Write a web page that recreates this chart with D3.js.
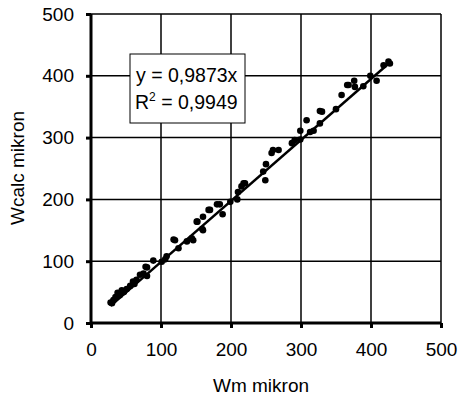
<!DOCTYPE html>
<html>
<head>
<meta charset="utf-8">
<script src="https://cdn.jsdelivr.net/npm/d3@7"></script>
<style>
  body { margin: 0; background: #fff; }
  text { font-family: Arial, "Liberation Sans", sans-serif; fill: #000; }
</style>
</head>
<body>
<div id="chart"></div>
<script>
var wm = [28, 30, 32, 35, 38, 41, 44, 47, 51, 56, 60, 62, 65, 70, 75, 78, 80, 80, 89, 101,
  106, 108, 118, 120, 125, 137, 144, 146, 151, 152, 159, 160, 160, 168, 170, 180, 184, 188,
  199, 209, 210, 215, 218, 220, 246, 249, 250, 258, 260, 268, 287, 291, 299, 299, 308, 313,
  318, 327, 327, 330, 350, 358, 366, 368, 376, 377, 389, 399, 408, 418, 425, 427];
var wcalc = [33, 32, 37, 42, 49, 45, 53, 50, 55, 60, 67, 63, 70, 78, 80, 91, 76, 90, 101, 99,
  103, 108, 135, 134, 121, 132, 137, 134, 164, 164, 152, 150, 172, 183, 183, 192, 192, 176,
  196, 200, 212, 221, 226, 226, 245, 231, 257, 275, 280, 280, 291, 296, 297, 311, 328, 309,
  311, 323, 343, 342, 346, 369, 385, 385, 392, 382, 383, 400, 392, 417, 423, 420];
var slope = 0.9873;
var xTicks = [0, 100, 200, 300, 400, 500];
var yTicks = [0, 100, 200, 300, 400, 500];
var eqLines = ['y = 0,9873x', 'R2 = 0,9949'];

var svgWidth = 459, svgHeight = 401;
var margin = {top: 14, right: 18, bottom: 78, left: 91},
    width = svgWidth - margin.left - margin.right,
    height = svgHeight - margin.top - margin.bottom;

var svg = d3.select('#chart').append('svg')
    .attr('width', svgWidth)
    .attr('height', svgHeight);
var g = svg.append('g')
    .attr('transform', `translate(${margin.left}, ${margin.top})`);

var x = d3.scaleLinear().domain([0, 500]).range([0, width]);
var y = d3.scaleLinear().domain([0, 500]).range([height, 0]);

// grid lines
g.append('g').selectAll('line')
    .data(xTicks.slice(1))
    .enter().append('line')
    .attr('x1', d => x(d)).attr('x2', d => x(d))
    .attr('y1', 0).attr('y2', height)
    .attr('stroke', '#000').attr('stroke-width', 1.5);
g.append('g').selectAll('line')
    .data(yTicks.slice(1))
    .enter().append('line')
    .attr('x1', 0).attr('x2', width)
    .attr('y1', d => y(d)).attr('y2', d => y(d))
    .attr('stroke', '#000').attr('stroke-width', 1.5);

// axes
var xAxis = g.append('g')
    .attr('transform', `translate(0, ${height})`)
    .call(d3.axisBottom(x).tickValues(xTicks).tickSize(5).tickPadding(15));
var yAxis = g.append('g')
    .call(d3.axisLeft(y).tickValues(yTicks).tickSize(5).tickPadding(12));
[xAxis, yAxis].forEach(function(ax) {
  ax.select('.domain').attr('stroke', '#000').attr('stroke-width', 3);
  ax.selectAll('.tick line').attr('stroke', '#000').attr('stroke-width', 3);
  ax.selectAll('.tick text')
    .attr('font-size', '19px')
    .attr('font-family', 'Arial, "Liberation Sans", sans-serif')
    .attr('fill', '#000');
});
xAxis.select('.domain').attr('d', `M0,0H${width}`);
yAxis.select('.domain').attr('d', `M0,${height}V0`);

// trend line
var xr = d3.extent(wm);
g.append('line')
    .attr('x1', x(xr[0])).attr('y1', y(xr[0] * slope))
    .attr('x2', x(xr[1])).attr('y2', y(xr[1] * slope))
    .attr('stroke', '#000').attr('stroke-width', 2.5);

// points
g.selectAll('circle')
    .data(wm)
    .enter().append('circle')
    .attr('cx', (d, i) => x(d))
    .attr('cy', (d, i) => y(wcalc[i]))
    .attr('r', 3.3)
    .attr('fill', '#000');

// equation box
var box = svg.append('g').attr('transform', 'translate(130, 54)');
box.append('rect')
    .attr('width', 115).attr('height', 69)
    .attr('fill', '#fff').attr('stroke', '#000').attr('stroke-width', 1);
box.append('text')
    .attr('x', 6).attr('y', 28)
    .attr('font-size', '19.5px')
    .text(eqLines[0]);
var r2 = box.append('text')
    .attr('x', 5).attr('y', 55)
    .attr('font-size', '19.5px');
r2.append('tspan').text('R');
r2.append('tspan').attr('dy', -8).attr('font-size', '12px').text('2');
r2.append('tspan').attr('dy', 8).text(eqLines[1].slice(2));

// axis titles
svg.append('text')
    .attr('x', margin.left + width / 2 - 5)
    .attr('y', 392)
    .attr('text-anchor', 'middle')
    .attr('font-size', '19px')
    .text('Wm mikron');
svg.append('text')
    .attr('transform', 'translate(24, 168) rotate(-90)')
    .attr('text-anchor', 'middle')
    .attr('font-size', '19px')
    .text('Wcalc mikron');
</script>
</body>
</html>
